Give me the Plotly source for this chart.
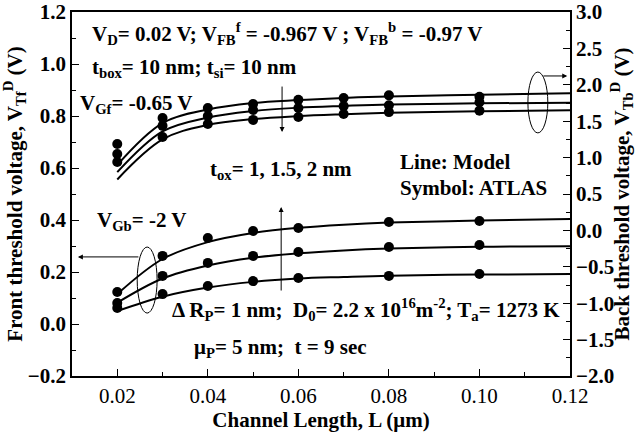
import plotly.graph_objects as go

# ---------------- data ----------------
L_model = [0.02, 0.03, 0.04, 0.05, 0.06, 0.07, 0.08, 0.10, 0.12]

# Back threshold voltage (right axis) - model lines, tox = 1, 1.5, 2 nm
vtb_model_1 = [0.90, 1.475, 1.66, 1.75, 1.79, 1.82, 1.84, 1.865, 1.885]
vtb_model_2 = [0.80, 1.36, 1.55, 1.64, 1.685, 1.71, 1.73, 1.745, 1.755]
vtb_model_3 = [0.70, 1.25, 1.45, 1.53, 1.57, 1.595, 1.615, 1.635, 1.65]

L_atlas_b = [0.02, 0.03, 0.04, 0.05, 0.06, 0.07, 0.08, 0.10]
vtb_atlas_1 = [1.186, 1.543, 1.682, 1.736, 1.793, 1.818, 1.855, 1.835]
vtb_atlas_2 = [1.05, 1.436, 1.571, 1.654, 1.682, 1.707, 1.72, 1.76]
vtb_atlas_3 = [0.939, 1.282, 1.461, 1.518, 1.557, 1.60, 1.625, 1.645]

# Front threshold voltage (left axis) - model lines
vtf_model_1 = [0.115, 0.25, 0.315, 0.35, 0.37, 0.382, 0.39, 0.398, 0.404]
vtf_model_2 = [0.082, 0.175, 0.225, 0.255, 0.272, 0.283, 0.29, 0.297, 0.299]
vtf_model_3 = [0.050, 0.105, 0.14, 0.162, 0.175, 0.181, 0.186, 0.19, 0.192]

L_atlas_f = [0.02, 0.03, 0.04, 0.05, 0.06, 0.08, 0.10]
vtf_atlas_1 = [0.123, 0.262, 0.331, 0.358, 0.369, 0.392, 0.396]
vtf_atlas_2 = [0.081, 0.185, 0.235, 0.262, 0.277, 0.296, 0.304]
vtf_atlas_3 = [0.062, 0.115, 0.146, 0.165, 0.177, 0.185, 0.192]

x_ticks = [0.02, 0.04, 0.06, 0.08, 0.10, 0.12]

FONT = "Liberation Serif"
BLACK = "#000000"

fig = go.Figure()

for ys in (vtf_model_1, vtf_model_2, vtf_model_3):
    fig.add_trace(go.Scatter(x=L_model, y=ys, mode="lines", yaxis="y",
                             line=dict(color=BLACK, width=2, shape="spline", smoothing=1.0),
                             showlegend=False, hoverinfo="skip"))
for ys in (vtf_atlas_1, vtf_atlas_2, vtf_atlas_3):
    fig.add_trace(go.Scatter(x=L_atlas_f, y=ys, mode="markers", yaxis="y",
                             marker=dict(color=BLACK, size=10), showlegend=False))
for ys in (vtb_model_1, vtb_model_2, vtb_model_3):
    fig.add_trace(go.Scatter(x=L_model, y=ys, mode="lines", yaxis="y2",
                             line=dict(color=BLACK, width=2, shape="spline", smoothing=1.0),
                             showlegend=False, hoverinfo="skip"))
for ys in (vtb_atlas_1, vtb_atlas_2, vtb_atlas_3):
    fig.add_trace(go.Scatter(x=L_atlas_b, y=ys, mode="markers", yaxis="y2",
                             marker=dict(color=BLACK, size=10), showlegend=False))

tickfont = dict(family=FONT, size=21, color=BLACK)
titlefont = dict(family=FONT, size=21, color=BLACK)

fig.update_layout(
    width=636, height=436,
    margin=dict(l=72, r=66, t=12, b=60, autoexpand=False),
    paper_bgcolor="white", plot_bgcolor="white",
    font=dict(family=FONT, color=BLACK),
    xaxis=dict(range=[0.01, 0.12], tickvals=x_ticks, tickformat=".2f", automargin=False,
               ticks="inside", ticklen=7, tickwidth=1, tickcolor=BLACK,
               minor=dict(dtick=0.01, tick0=0, ticks="inside", ticklen=4, tickcolor=BLACK),
               showline=True, linecolor=BLACK, linewidth=1.5, mirror=True,
               showgrid=False, zeroline=False,
               tickfont=tickfont, tickprefix="<b>", ticksuffix="</b>",
               title=dict(text="<b>Channel Length, L (μm)</b>", font=titlefont, standoff=4)),
    yaxis=dict(range=[-0.2, 1.2], dtick=0.2, tick0=0, tickformat=".1f", automargin=False,
               ticks="inside", ticklen=7, tickwidth=1, tickcolor=BLACK,
               minor=dict(dtick=0.1, tick0=0, ticks="inside", ticklen=4, tickcolor=BLACK),
               showline=True, linecolor=BLACK, linewidth=1.5,
               showgrid=False, zeroline=False,
               tickfont=tickfont, tickprefix="<b>", ticksuffix="</b>",
               title=dict(text="<b>Front threshold voltage, V<sub>Tf</sub><sup>D</sup> (V)</b>",
                          font=titlefont, standoff=2)),
    yaxis2=dict(range=[-2.0, 3.0], dtick=0.5, tick0=0, tickformat=".1f", automargin=False,
                overlaying="y", side="right",
                ticks="inside", ticklen=7, tickwidth=1, tickcolor=BLACK,
                minor=dict(dtick=0.25, tick0=0, ticks="inside", ticklen=4, tickcolor=BLACK),
                showline=True, linecolor=BLACK, linewidth=1.5,
                showgrid=False, zeroline=False,
                tickfont=tickfont, tickprefix="<b>", ticksuffix="</b>",
                title=dict(text="<b>Back threshold voltage, V<sub>Tb</sub><sup>D</sup> (V)</b>",
                           font=titlefont, standoff=2)),
)

# ---------------- shapes: ellipses ----------------
fig.add_shape(type="circle", xref="x", yref="y", x0=0.1107, x1=0.1151, y0=0.735, y1=0.969,
              line=dict(color=BLACK, width=1))
fig.add_shape(type="circle", xref="x", yref="y", x0=0.0244, x1=0.0288, y0=0.042, y1=0.296,
              line=dict(color=BLACK, width=1))

# ---------------- arrows ----------------
def arrow(x, y, ax, ay):
    fig.add_annotation(x=x, y=y, ax=ax, ay=ay, xref="x", yref="y", axref="x", ayref="y",
                       text="", showarrow=True, arrowhead=2, arrowsize=1, arrowwidth=1,
                       arrowcolor=BLACK)

arrow(0.1194, 0.954, 0.1138, 0.954)   # to right axis
arrow(0.0113, 0.258, 0.0250, 0.258)   # to left axis
arrow(0.0564, 0.738, 0.0564, 0.919)   # down arrow (upper set)
arrow(0.0562, 0.450, 0.0562, 0.123)   # up arrow (lower set)

# ---------------- text ----------------
def px_text(text, px, py, size=21):
    fig.add_annotation(x=(px - 72) / 498, y=(376 - py) / 364, xref="paper", yref="paper",
                       text="<b>" + text + "</b>", showarrow=False, xanchor="left", yanchor="middle",
                       font=dict(family=FONT, size=size, color=BLACK))

px_text("V<sub>D</sub>= 0.02 V; V<sub>FB</sub><sup>f</sup> = -0.967 V ; V<sub>FB</sub><sup>b</sup> = -0.97 V", 90, 33)
px_text("t<sub>box</sub>= 10 nm; t<sub>si</sub>= 10 nm", 90, 68)
px_text("V<sub>Gf</sub>= -0.65 V", 78, 104)
px_text("t<sub>ox</sub>= 1, 1.5, 2 nm", 208, 170)
px_text("Line: Model", 398, 162)
px_text("Symbol: ATLAS", 398, 188)
px_text("V<sub>Gb</sub>= -2 V", 95, 221)
px_text("Δ R<sub>P</sub>= 1 nm;  D<sub>0</sub>= 2.2 x 10<sup>16</sup>m<sup>-2</sup>; T<sub>a</sub>= 1273 K", 170, 309)
px_text("μ<sub>P</sub>= 5 nm;  t = 9 sec", 192, 348)

fig.write_html("out.html")
